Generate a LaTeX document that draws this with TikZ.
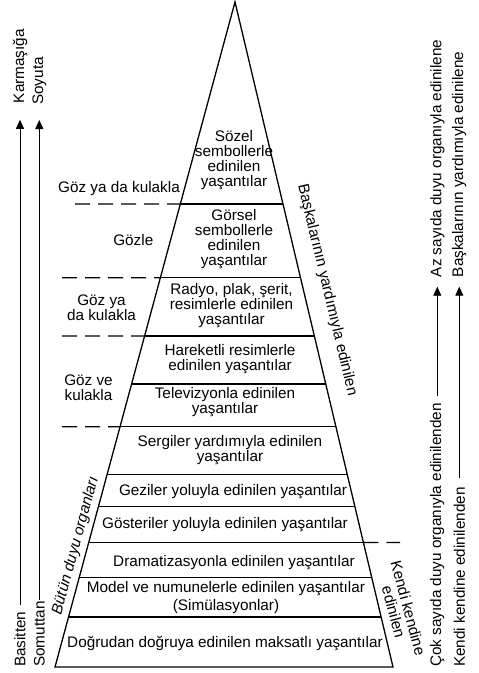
\documentclass[tikz,border=0pt]{standalone}
\usepackage{fontspec}
\setmainfont{Liberation Sans}
\usetikzlibrary{arrows.meta,calc,positioning}

\begin{document}
\begin{tikzpicture}[x=1pt, y=-1pt, font=\fontsize{15.3}{15}\selectfont,
		arrow/.style = {line width=0.9pt,-{Triangle[length=9pt,width=8pt]}}]
		\tikzset{edge/.style={line width=1.3pt},
			level/.style={inner sep=0pt,align=center},
			side/.style={inner sep=0pt,align=center},
			sep/.style={line width=1.3pt,dash pattern=on 15pt off 8pt},
			upword/.style={inner sep=0pt,rotate=90,anchor=west}}

		\useasboundingbox (0,0) rectangle (479,673);

		% Pyramid
		\coordinate (apex) at (235,2);
		\coordinate (bl) at (55,667);
		\coordinate (br) at (393,667);
		\draw[edge] (apex) -- (bl) -- (br) -- cycle;

		% Layers
		\foreach \lev/\yy in {1/204,2/277.7,3/336,4/384,5/426.7,6/474.3,7/506.7,8/542.5,9/577.7,10/617}{
			\pgfmathsetmacro{\lvlpos}{(\yy-2)/665}
			\coordinate (L\lev) at ($(apex)!\lvlpos!(bl)$);
			\coordinate (R\lev) at ($(apex)!\lvlpos!(br)$);
			\draw[edge] (L\lev) -- (R\lev);
		}

		\node[level] (sozel) at (234,160.5) {Sözel\\sembollerle\\edinilen\\yaşantılar};

		\node[level] (gorsel) at (234,239.5) {Görsel\\sembollerle\\edinilen\\yaşantılar};

		\node[level] (radyo) at (231.5,306) {Radyo, plak, şerit,\\resimlerle edinilen\\yaşantılar};

		\node[level] (hareketli) at (230,358.7) {Hareketli resimlerle\\edinilen yaşantılar};

		\node[level] (televizyon) at (225,402.5) {Televizyonla edinilen\\yaşantılar};

		\node[level] (sergi) at (230,450.5) {Sergiler yardımıyla edinilen\\yaşantılar};

		\node[level] (gezi) at (233,491.7) {Geziler yoluyla edinilen yaşantılar};

		\node[level] (gosteri) at (225,525) {Gösteriler yoluyla edinilen yaşantılar};

		\node[level] (drama) at (234,562.7) {Dramatizasyonla edinilen yaşantılar};

		\node[level] (model) at (226,597.5) {Model ve numunelerle edinilen yaşantılar\\[3pt](Simülasyonlar)};

		\node[level] (dogrudan) at (225,643.3) {Doğrudan doğruya edinilen maksatlı yaşantılar};

		% Senses
		\node[side] (gozkulak) at (119,188.3) {Göz ya da kulakla};
		\node[side] (gozle) at (133.3,240) {Gözle};
		\node[side] (gozyada) at (101.5,308) {Göz ya\\da kulakla};
		\node[side] (gozve) at (88.5,387.5) {Göz ve\\kulakla};

		\coordinate (d1) at (75,204);
		\coordinate (d2) at (62,277.7);
		\coordinate (d3) at (62,336);
		\coordinate (d5) at (62,426.7);
		\coordinate (d8) at (400,542.5);
		\draw[sep] (d1) -- (L1);
		\draw[sep] (d2) -- (L2);
		\draw[sep] (d3) -- (L3);
		\draw[sep] (d5) -- (L5);
		\draw[sep] (R8) -- (d8);

		% Along the sides
		\node[inner sep=0pt, rotate=74.85] (butun) at (75.8,545.5) {\itshape Bütün duyu organları};
		\node[inner sep=0pt, rotate=-76.6] (baskalari) at (327,290) {Başkalarının yardımıyla edinilen};
		\node[inner sep=0pt, rotate=-75, align=center] (kendi) at (401,610) {Kendi kendine\\edinilen};

		% Arrows
		\node[upword] (basitten) at (20,667) {Basitten};
		\node[upword] (karmasiga) at (20,103.3) {Karmaşığa};
		\draw[arrow, shorten <=6pt, shorten >=16.5pt] (basitten.east) -- (karmasiga.west);

		\node[upword] (somuttan) at (39.3,667) {Somuttan};
		\node[upword] (soyuta) at (39.3,105) {Soyuta};
		\draw[arrow, shorten <=1.5pt, shorten >=15pt] (somuttan.east) -- (soyuta.west);

		\node[upword] (cokduyu) at (437.3,667) {Çok sayıda duyu organıyla edinilenden};
		\node[upword] (azduyu) at (437.3,277.3) {Az sayıda duyu organıyla edinilene};
		\draw[arrow, shorten <=6.5pt, shorten >=9.4pt] (cokduyu.east) -- (azduyu.west);

		\node[upword] (kendikendine) at (459.3,667) {Kendi kendine edinilenden};
		\node[upword] (baskalarina) at (459.3,277.3) {Başkalarının yardımıyla edinilene};
		\draw[arrow, shorten <=8.7pt, shorten >=9.4pt] (kendikendine.east) -- (baskalarina.west);

	\end{tikzpicture}
\end{document}
